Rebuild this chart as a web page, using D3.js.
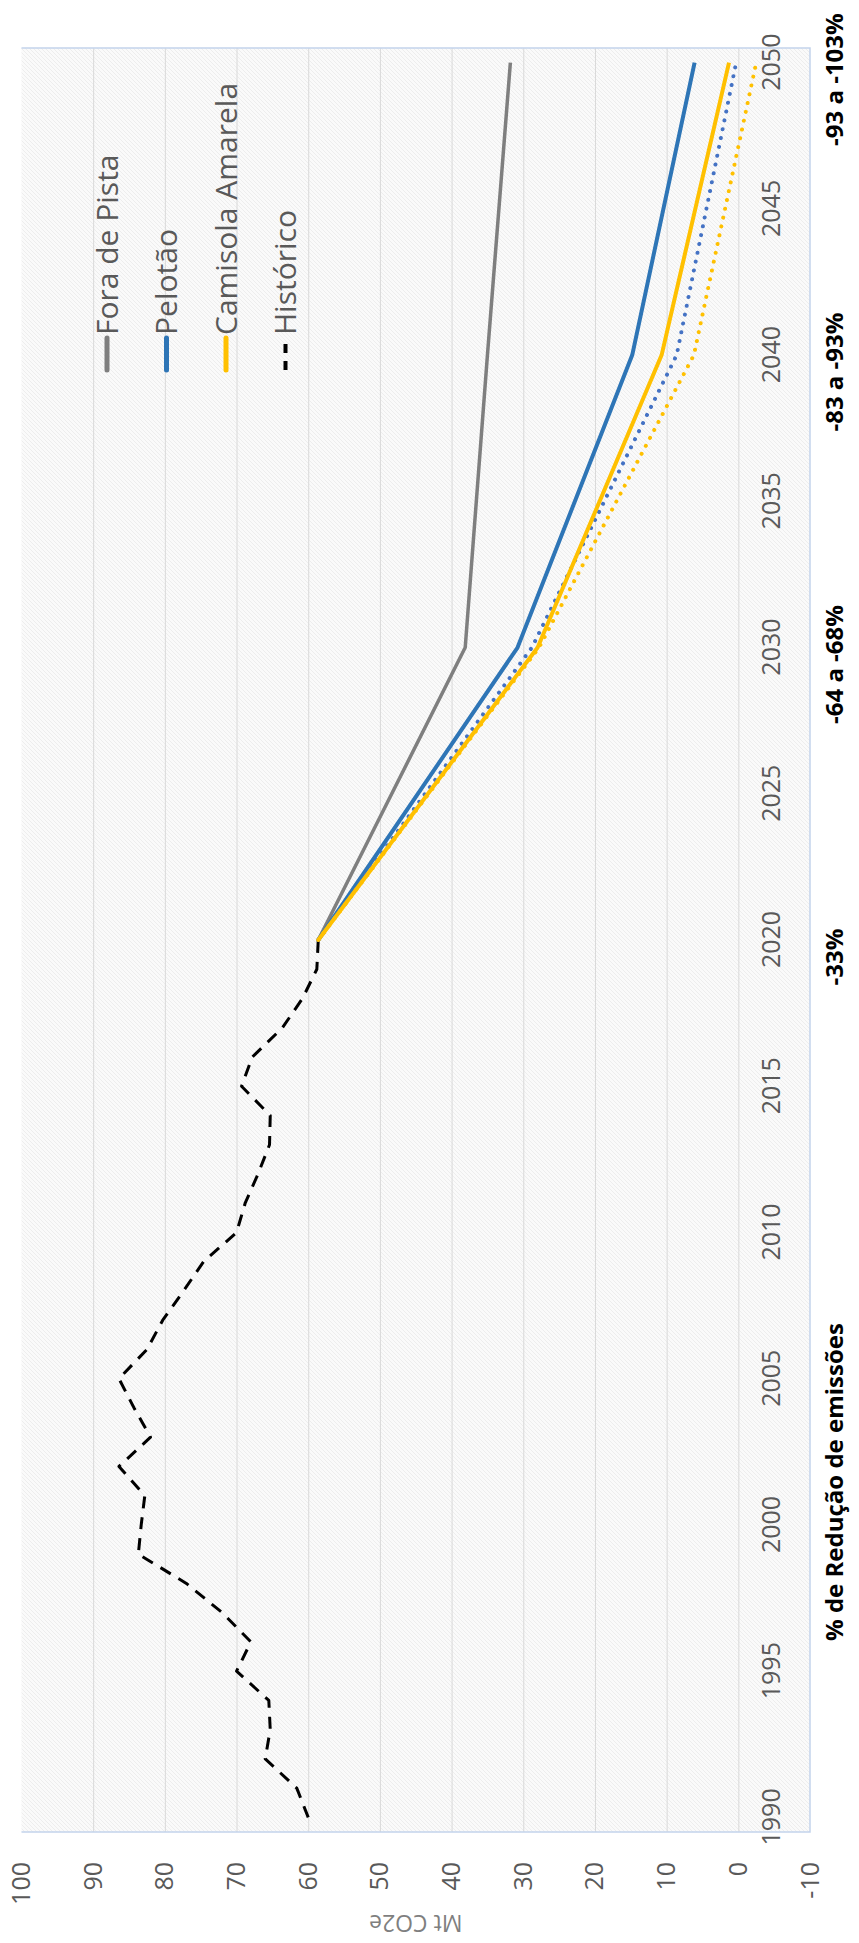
<!DOCTYPE html>
<html>
<head>
<meta charset="utf-8">
<script src="https://cdn.jsdelivr.net/npm/d3@7/dist/d3.min.js"></script>
<style>
  html, body { margin: 0; padding: 0; background: #ffffff; }
  svg { display: block; font-family: "Open Sans", "Noto Sans", sans-serif; }
</style>
</head>
<body>
<svg id="chart" width="859" height="1943"></svg>
<script>
// ---------------- DATA ----------------
const years = d3.range(1990, 2051);            // categories 1990..2050
const yearTickLabels = [1990, 1995, 2000, 2005, 2010, 2015, 2020, 2025, 2030, 2035, 2040, 2045, 2050];
const valueTicks = [-10, 0, 10, 20, 30, 40, 50, 60, 70, 80, 90, 100];

const historicoYears = d3.range(1990, 2021);
const historico = [60, 61.6, 66, 65.3, 65.5, 70, 68, 72, 77, 83.7, 83.3, 82.8, 86.4, 82, 84.3, 86.4,
                   82.5, 80.3, 77.4, 74.6, 70, 68.8, 67, 65.4, 65.3, 69.3, 67.8, 63.6, 60.8, 58.8, 58.6];

const scenarioYears = [2020, 2030, 2040, 2050];
const foraDePista   = [58.6, 38.1, 35.0, 31.8];
const pelotao       = [58.6, 30.8, 14.8, 6.1];
const pelotaoMin    = [58.6, 28.8, 8.6, 0.3];
const camisola      = [58.6, 28.0, 10.7, 1.3];
const camisolaMin   = [58.6, 27.8, 6.2, -2.5];

const legendNames = ["Fora de Pista", "Pelotão", "Camisola Amarela", "Histórico"];
const reductionYears = [2020, 2030, 2040, 2050];
const reductionTexts = ["-33%", "-64 a -68%", "-83 a -93%", "-93 a -103%"];
const reductionTitle = "% de Redução de emissões";
const yAxisTitle = "Mt CO2e";

// ---------------- LAYOUT (landscape, then rotated) ----------------
const W = 1943, H = 859;
const plot = { left: 111, right: 1895, top: 21.5, bottom: 810 };

const svg = d3.select("#chart");
const defs = svg.append("defs");
const pat = defs.append("pattern").attr("id", "hatch").attr("patternUnits", "userSpaceOnUse")
  .attr("width", 4).attr("height", 4);
pat.append("rect").attr("width", 4).attr("height", 4).attr("fill", "#fafafa");
pat.append("path").attr("d", "M-1,1 l2,-2 M0,4 l4,-4 M3,5 l2,-2").attr("stroke", "#ededed").attr("stroke-width", 1);

const g = svg.append("g").attr("transform", `translate(0,${W}) rotate(-90)`);

const x = d3.scalePoint().domain(years).range([plot.left, plot.right]).padding(0.5);
const y = d3.scaleLinear().domain([-10, 100]).range([plot.bottom, plot.top]);

// plot background
g.append("rect").attr("x", plot.left).attr("y", plot.top)
  .attr("width", plot.right - plot.left).attr("height", plot.bottom - plot.top)
  .attr("fill", "url(#hatch)");

// gridlines
const grid = g.append("g").attr("transform", `translate(${plot.left},0)`)
  .call(d3.axisLeft(y).tickValues(d3.range(0, 100, 10)).tickSize(-(plot.right - plot.left)).tickFormat(""));
grid.select(".domain").remove();
grid.selectAll("line").attr("stroke", "#d9d9d9").attr("stroke-width", 1);

// plot border (three sides)
g.append("path")
  .attr("d", `M${plot.right},${plot.top} L${plot.right},${plot.bottom} L${plot.left},${plot.bottom} L${plot.left},${plot.top}`)
  .attr("fill", "none").attr("stroke", "#c3d3ec").attr("stroke-width", 1.5);

// value axis labels
const yAx = g.append("g").attr("transform", `translate(81,0)`)
  .call(d3.axisLeft(y).tickValues(valueTicks).tickSize(0).tickPadding(0).tickFormat(d => String(d)));
yAx.select(".domain").remove();
yAx.selectAll("text").attr("font-size", 25).attr("fill", "#595959").attr("font-family", "Open Sans");

// category axis labels (crossing at 0)
const xAx = g.append("g").attr("transform", `translate(0,${y(0)})`)
  .call(d3.axisBottom(x).tickValues(yearTickLabels).tickSize(0).tickPadding(24));
xAx.select(".domain").remove();
xAx.selectAll("text").attr("font-size", 25).attr("fill", "#595959").attr("font-family", "Open Sans");

// y-axis title
g.append("text").attr("transform", `translate(28,${(plot.top + plot.bottom) / 2}) rotate(-90)`)
  .attr("text-anchor", "middle").attr("font-size", 23).attr("fill", "#7f7f7f").text(yAxisTitle);

// lines
const line = d3.line().x(d => x(d[0])).y(d => y(d[1]));
const zipS = arr => scenarioYears.map((yr, i) => [yr, arr[i]]);

const series = [
  { pts: historicoYears.map((yr, i) => [yr, historico[i]]), color: "#000000", w: 3, dash: "12,9", cap: "butt" },
  { pts: zipS(foraDePista), color: "#7f7f7f", w: 3.5 },
  { pts: zipS(pelotao), color: "#2e75b6", w: 4 },
  { pts: zipS(pelotaoMin), color: "#4472c4", w: 4, dash: "0.01,9", cap: "round" },
  { pts: zipS(camisolaMin), color: "#ffc000", w: 4, dash: "0.01,9", cap: "round" },
  { pts: zipS(camisola), color: "#ffc000", w: 4 }
];
series.forEach(s => {
  g.append("path").attr("d", line(s.pts)).attr("fill", "none")
    .attr("stroke", s.color).attr("stroke-width", s.w)
    .attr("stroke-linejoin", "round")
    .attr("stroke-linecap", s.cap || "butt")
    .attr("stroke-dasharray", s.dash || null);
});

// legend
const legendColors = ["#7f7f7f", "#2e75b6", "#ffc000", "#000000"];
const legendDash = [null, null, null, "9,8"];
const lg = g.append("g");
legendNames.forEach((name, i) => {
  const cy = 107 + i * 59.5;
  lg.append("line").attr("x1", 1573).attr("x2", 1605).attr("y1", cy).attr("y2", cy)
    .attr("stroke", legendColors[i]).attr("stroke-width", i === 3 ? 4 : 5)
    .attr("stroke-linecap", i === 3 ? "butt" : "round")
    .attr("stroke-dasharray", legendDash[i]);
  lg.append("text").attr("x", 1608).attr("y", cy + 10.5)
    .attr("font-size", 30).attr("fill", "#595959").text(name);
});

// reduction labels
reductionYears.forEach((yr, i) => {
  g.append("text").attr("x", x(yr) - 17).attr("y", 843)
    .attr("text-anchor", "middle").attr("font-size", 24).attr("font-weight", "bold")
    .attr("fill", "#000").text(reductionTexts[i]);
});
g.append("text").attr("x", 461).attr("y", 843)
  .attr("text-anchor", "middle").attr("font-size", 24).attr("font-weight", "bold")
  .attr("fill", "#000").text(reductionTitle);
</script>
</body>
</html>
